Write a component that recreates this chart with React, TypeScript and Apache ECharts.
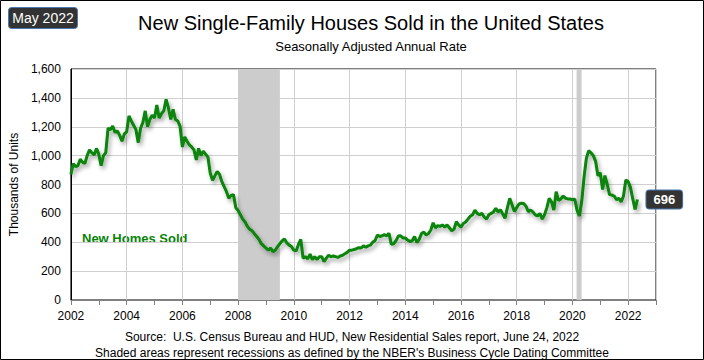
import React, { useEffect, useRef } from "react";
import * as echarts from "echarts";

const startYear = 2002;
const sales2002 = [870, 945, 925, 930, 975, 955, 945, 1000, 1040, 1020, 1005, 1050];
const sales2003 = [1010, 930, 1000, 1020, 1190, 1180, 1205, 1160, 1170, 1140, 1100, 1150];
const sales2004 = [1165, 1275, 1240, 1210, 1180, 1090, 1190, 1230, 1310, 1200, 1250, 1280];
const sales2005 = [1260, 1350, 1260, 1290, 1310, 1390, 1330, 1250, 1320, 1250, 1240, 1205];
const sales2006 = [1060, 1130, 1100, 1075, 1060, 1040, 970, 1050, 1000, 1030, 1010, 990];
const sales2007 = [880, 830, 860, 890, 870, 820, 785, 750, 705, 725, 730, 640];
const sales2008 = [620, 590, 560, 540, 510, 490, 480, 460, 440, 420, 390, 375];
const sales2009 = [360, 345, 360, 335, 345, 370, 390, 410, 422, 395, 380, 370];
const sales2010 = [345, 340, 385, 420, 290, 300, 285, 318, 280, 300, 280, 300];
const sales2011 = [300, 265, 290, 310, 300, 305, 300, 295, 305, 310, 320, 330];
const sales2012 = [345, 345, 350, 355, 362, 360, 375, 365, 375, 380, 400, 412];
const sales2013 = [450, 440, 445, 452, 445, 462, 385, 390, 410, 443, 445, 430];
const sales2014 = [430, 415, 405, 410, 440, 398, 420, 460, 470, 450, 460, 485];
const sales2015 = [535, 500, 515, 510, 520, 505, 520, 500, 480, 490, 542, 520];
const sales2016 = [505, 530, 540, 560, 580, 590, 623, 600, 590, 600, 575, 560];
const sales2017 = [590, 600, 610, 635, 610, 625, 595, 566, 640, 704, 660, 612];
const sales2018 = [640, 665, 670, 668, 650, 612, 623, 610, 590, 582, 600, 560];
const sales2019 = [590, 640, 704, 680, 623, 750, 690, 700, 720, 705, 700, 700];
const sales2020 = [693, 700, 620, 582, 680, 850, 980, 1035, 1020, 1000, 960, 860];
const sales2021 = [882, 765, 862, 800, 730, 727, 720, 695, 705, 680, 720, 831];
const sales2022 = [820, 780, 700, 628, 696];

const yearlySales = [
  sales2002, sales2003, sales2004, sales2005, sales2006, sales2007, sales2008,
  sales2009, sales2010, sales2011, sales2012, sales2013, sales2014, sales2015,
  sales2016, sales2017, sales2018, sales2019, sales2020, sales2021, sales2022,
];

const recessions = [
  [2008.0, 2009.5],
  [2020.15, 2020.33],
];

const yTicks = [0, 200, 400, 600, 800, 1000, 1200, 1400, 1600];
const xTickYears = [2002, 2004, 2006, 2008, 2010, 2012, 2014, 2016, 2018, 2020, 2022];

const FONT = "Liberation Sans";

export default function App() {
  const ref = useRef<HTMLDivElement>(null);
  useEffect(() => {
    if (!ref.current) return;
    const chart = echarts.init(ref.current, null, { renderer: "svg" });
    const data: number[][] = [];
    yearlySales.forEach((arr, yi) => {
      arr.forEach((v, m) => data.push([startYear + yi + m / 12, v]));
    });
    const last = data[data.length - 1][1];
    chart.setOption({
      animation: false,
      backgroundColor: "#ffffff",
      textStyle: { fontFamily: FONT },
      grid: {
        left: 70,
        right: 48,
        top: 69,
        bottom: 60,
        show: true,
        borderColor: "#000",
        borderWidth: 1,
      },
      xAxis: {
        type: "value",
        min: 2002,
        max: 2023,
        interval: 2,
        axisLine: { show: true, lineStyle: { color: "#808080", width: 1 } },
        axisTick: { show: true, length: 5, lineStyle: { color: "#808080" } },
        minorTick: { show: true, splitNumber: 2, length: 5, lineStyle: { color: "#808080" } },
        axisLabel: {
          color: "#000",
          fontSize: 12,
          margin: 10,
          fontFamily: FONT,
          formatter: (v: number) => (xTickYears.includes(v) ? String(v) : ""),
        },
        splitLine: { show: true, lineStyle: { color: "#cfcfcf", width: 1 } },
      },
      yAxis: {
        type: "value",
        min: yTicks[0],
        max: yTicks[yTicks.length - 1],
        interval: 200,
        name: "Thousands of Units",
        nameLocation: "middle",
        nameGap: 46,
        nameTextStyle: { color: "#000", fontSize: 12, fontFamily: FONT },
        axisLine: { show: true, lineStyle: { color: "#000", width: 1 } },
        axisTick: { show: false },
        axisLabel: {
          color: "#000",
          fontSize: 12,
          margin: 10,
          fontFamily: FONT,
          formatter: (v: number) => v.toLocaleString("en-US"),
        },
        splitLine: { show: true, lineStyle: { color: "#cfcfcf", width: 1 } },
      },
      series: [
        {
          type: "line",
          data,
          showSymbol: false,
          symbol: "none",
          lineStyle: {
            color: "#078407",
            width: 3,
            shadowColor: "rgba(0,0,0,0.35)",
            shadowBlur: 4,
            shadowOffsetX: 2,
            shadowOffsetY: 3,
          },
          z: 3,
          markArea: {
            silent: true,
            itemStyle: { color: "#cccccc" },
            data: recessions.map((r) => [{ xAxis: r[0] }, { xAxis: r[1] }]),
          },
          endLabel: {
            show: true,
            formatter: () => String(last),
            color: "#fff",
            fontWeight: "bold",
            fontSize: 13,
            fontFamily: FONT,
            backgroundColor: "#333333",
            borderColor: "#4a78b0",
            borderWidth: 1,
            borderRadius: 3,
            padding: [3, 7, 2, 7],
            distance: 9,
          },
        },
      ],
      graphic: [
        {
          type: "rect",
          shape: { x: 0.5, y: 0.5, width: 703, height: 359 },
          style: { fill: "none", stroke: "#000", lineWidth: 1 },
          z: 100,
        },
        {
          type: "rect",
          shape: { x: 8.5, y: 7.5, width: 69, height: 21, r: 3 },
          style: { fill: "#333333", stroke: "#4a78b0", lineWidth: 1 },
        },
        {
          type: "text",
          x: 43,
          y: 18,
          style: {
            text: "May 2022",
            fill: "#fff",
            font: `14px '${FONT}'`,
            align: "center",
            verticalAlign: "middle",
          },
        },
        {
          type: "text",
          x: 371,
          y: 23,
          style: {
            text: "New Single-Family Houses Sold in the United States",
            fill: "#000",
            font: `20px '${FONT}'`,
            align: "center",
            verticalAlign: "middle",
          },
        },
        {
          type: "text",
          x: 371,
          y: 46,
          style: {
            text: "Seasonally Adjusted Annual Rate",
            fill: "#000",
            font: `13px '${FONT}'`,
            align: "center",
            verticalAlign: "middle",
          },
        },
        {
          type: "text",
          x: 82,
          y: 238,
          style: {
            text: "New Homes Sold",
            fill: "#078407",
            font: `bold 13px '${FONT}'`,
            align: "left",
            verticalAlign: "middle",
          },
        },
        {
          type: "text",
          x: 352,
          y: 337,
          style: {
            text: "Source:  U.S. Census Bureau and HUD, New Residential Sales report, June 24, 2022",
            fill: "#000",
            font: `12px '${FONT}'`,
            align: "center",
            verticalAlign: "middle",
          },
        },
        {
          type: "text",
          x: 352,
          y: 353,
          style: {
            text: "Shaded areas represent recessions as defined by the NBER's Business Cycle Dating Committee",
            fill: "#000",
            font: `12px '${FONT}'`,
            align: "center",
            verticalAlign: "middle",
          },
        },
      ],
    });
    return () => chart.dispose();
  }, []);
  return (
    <div
      ref={ref}
      style={{ position: "fixed", left: 0, top: 0, width: 704, height: 360 }}
    />
  );
}
